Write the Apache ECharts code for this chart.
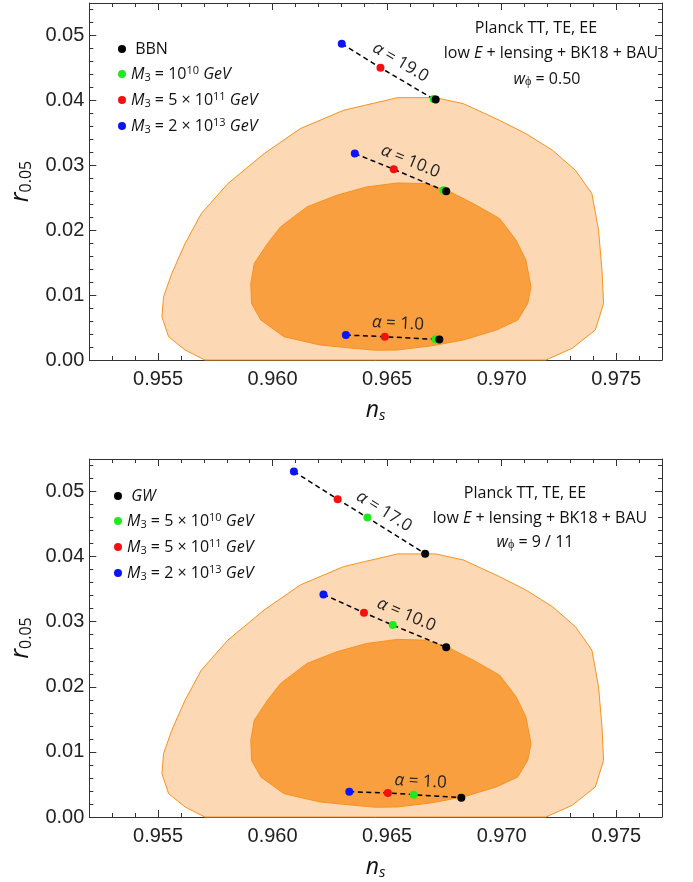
<!DOCTYPE html>
<html>
<head>
<meta charset="utf-8">
<script src="https://cdn.jsdelivr.net/npm/echarts@6/dist/echarts.min.js"></script>
<style>
html, body { margin: 0; padding: 0; background: #fff; }
#chart { width: 693px; height: 882px; }
</style>
</head>
<body>
<div id="chart"></div>
<script>
// Planck TT,TE,EE + lowE + lensing + BK18 + BAU contours, [n_s, r_0.05] (same in both panels)
const outerContour = [
    [0.95704, 0], [0.95618, 0.00154], [0.95546, 0.00358], [0.95517, 0.00666], [0.95524, 0.00974],
    [0.95560, 0.01334], [0.95618, 0.01795], [0.95689, 0.02257], [0.95805, 0.02718], [0.95963, 0.03180],
    [0.96121, 0.03565], [0.96309, 0.03846], [0.96401, 0.03923], [0.96496, 0.04000], [0.96545, 0.04042],
    [0.96711, 0.04042], [0.96833, 0.03949], [0.96991, 0.03692], [0.97106, 0.03487], [0.97222, 0.03231],
    [0.97322, 0.02923], [0.97394, 0.02564], [0.97423, 0.02000], [0.97438, 0.01385], [0.97445, 0.00872],
    [0.97409, 0.00462], [0.97308, 0.00180], [0.97193, 0]
];
const innerContour = [
    [0.96050, 0.00358], [0.95949, 0.00615], [0.95908, 0.00872], [0.95905, 0.01180], [0.95920, 0.01487],
    [0.95978, 0.01795], [0.96035, 0.02051], [0.96150, 0.02359], [0.96280, 0.02538], [0.96410, 0.02666],
    [0.96545, 0.02728], [0.96660, 0.02718], [0.96761, 0.02615], [0.96876, 0.02410], [0.96991, 0.02180],
    [0.97063, 0.01846], [0.97106, 0.01538], [0.97128, 0.01128], [0.97114, 0.00872], [0.97070, 0.00615],
    [0.96977, 0.00462], [0.96833, 0.00308], [0.96689, 0.00215], [0.96545, 0.00154], [0.96450, 0.00150],
    [0.96352, 0.00180], [0.96208, 0.00231]
];

// axis ticks
const nsTicks = [0.955, 0.960, 0.965, 0.970, 0.975];
const rTicks = [0, 0.01, 0.02, 0.03, 0.04, 0.05];

// top panel (w_phi = 0.50), one entry per alpha line
const alphaTop = ['19.0', '10.0', '1.0'];
const topBlue  = [[0.96302, 0.04872], [0.96359, 0.03180], [0.96320, 0.00385]];
const topRed   = [[0.96471, 0.04503], [0.96529, 0.02938], [0.96490, 0.00359]];
const topGreen = [[0.96703, 0.04020], [0.96746, 0.02615], [0.96711, 0.00318]];
const topBlack = [[0.96712, 0.04015], [0.96758, 0.02600], [0.96728, 0.00315]];

// bottom panel (w_phi = 9/11)
const alphaBottom = ['17.0', '10.0', '1.0'];
const botBlue  = [[0.96093, 0.05308], [0.96222, 0.03420], [0.96335, 0.00389]];
const botRed   = [[0.96284, 0.04882], [0.96399, 0.03138], [0.96503, 0.00369]];
const botGreen = [[0.96414, 0.04600], [0.96525, 0.02948], [0.96616, 0.00343]];
const botBlack = [[0.96666, 0.04046], [0.96758, 0.02609], [0.96824, 0.00297]];

const FONT = 'Open Sans';
const FRAME = '#333';
const legendRich = {
    t: {fontSize: 16, fontFamily: FONT, color: '#111', lineHeight: 18},
    i: {fontSize: 16, fontFamily: FONT, fontStyle: 'italic', color: '#111', lineHeight: 18},
    sub: {fontSize: 11, fontFamily: FONT, color: '#111', lineHeight: 10, verticalAlign: 'bottom'},
    sup: {fontSize: 11, fontFamily: FONT, color: '#111', lineHeight: 8, verticalAlign: 'top'}
};
const legendText = {
    t_black: '{t| BBN}',
    t_green: '{i|M}{sub|3}{t| = 10}{sup|10}{i| GeV}',
    t_red: '{i|M}{sub|3}{t| = 5 × 10}{sup|11}{i| GeV}',
    t_blue: '{i|M}{sub|3}{t| = 2 × 10}{sup|13}{i| GeV}',
    b_black: '{i| GW}',
    b_green: '{i|M}{sub|3}{t| = 5 × 10}{sup|10}{i| GeV}',
    b_red: '{i|M}{sub|3}{t| = 5 × 10}{sup|11}{i| GeV}',
    b_blue: '{i|M}{sub|3}{t| = 2 × 10}{sup|13}{i| GeV}'
};

const gridDefs = [{left: 85, top: 3, width: 577, height: 357}, {left: 85, top: 459, width: 577, height: 358}];

function xAxesFor(gi) {
    const base = {gridIndex: gi, type: 'value', min: 0.952, max: 0.977, splitLine: {show: false}};
    const major = {show: true, inside: true, length: 7, customValues: nsTicks, lineStyle: {color: FRAME}};
    const minor = {show: true, inside: true, length: 4, lineStyle: {color: FRAME}};
    return [
        Object.assign({}, base, {
            position: 'bottom',
            name: '{n|n}{s|s}', nameLocation: 'middle', nameGap: 37,
            nameTextStyle: {rich: {
                n: {fontSize: 23, fontFamily: FONT, fontStyle: 'italic', color: '#111', lineHeight: 26},
                s: {fontSize: 15, fontFamily: FONT, fontStyle: 'italic', color: '#111', lineHeight: 12, verticalAlign: 'bottom'}
            }},
            axisLine: {show: true, onZero: false, lineStyle: {color: FRAME, width: 1}},
            axisTick: major,
            axisLabel: {show: true, customValues: nsTicks, formatter: v => v.toFixed(3), margin: 9,
                fontSize: 20, fontFamily: 'Liberation Sans', color: '#222'}
        }),
        Object.assign({}, base, {position: 'bottom', interval: 0.001, axisLine: {show: false, onZero: false},
            axisTick: minor, axisLabel: {show: false}}),
        Object.assign({}, base, {position: 'top', axisLine: {show: true, onZero: false, lineStyle: {color: FRAME, width: 1}},
            axisTick: major, axisLabel: {show: false}}),
        Object.assign({}, base, {position: 'top', interval: 0.001, axisLine: {show: false, onZero: false},
            axisTick: minor, axisLabel: {show: false}})
    ];
}

function yAxesFor(gi) {
    const base = {gridIndex: gi, type: 'value', min: 0, max: 0.055, splitLine: {show: false}};
    const major = {show: true, inside: true, length: 7, customValues: rTicks, lineStyle: {color: FRAME}};
    const minor = {show: true, inside: true, length: 4, lineStyle: {color: FRAME}};
    return [
        Object.assign({}, base, {
            position: 'left',
            name: '{r|r}{s|0.05}', nameLocation: 'middle', nameGap: 50,
            nameTextStyle: {rich: {
                r: {fontSize: 25, fontFamily: FONT, fontStyle: 'italic', color: '#111', lineHeight: 28},
                s: {fontSize: 16, fontFamily: FONT, color: '#111', lineHeight: 14, verticalAlign: 'bottom'}
            }},
            axisLine: {show: true, onZero: false, lineStyle: {color: FRAME, width: 1}},
            axisTick: major,
            axisLabel: {show: true, customValues: rTicks, formatter: v => v.toFixed(2), margin: 5,
                fontSize: 20, fontFamily: 'Liberation Sans', color: '#222'}
        }),
        Object.assign({}, base, {position: 'left', interval: 0.002, axisLine: {show: false, onZero: false},
            axisTick: minor, axisLabel: {show: false}}),
        Object.assign({}, base, {position: 'right', axisLine: {show: true, onZero: false, lineStyle: {color: FRAME, width: 1}},
            axisTick: major, axisLabel: {show: false}}),
        Object.assign({}, base, {position: 'right', interval: 0.002, axisLine: {show: false, onZero: false},
            axisTick: minor, axisLabel: {show: false}})
    ];
}

function contourSeries(gi, points, fill) {
    return {
        type: 'custom', xAxisIndex: gi * 4, yAxisIndex: gi * 4, silent: true, z: 1,
        data: points,
        renderItem: function (params, api) {
            if (params.dataIndex !== 0) return;
            return {
                type: 'polygon',
                shape: {points: points.map(p => api.coord(p))},
                style: {fill: fill, stroke: '#F7931E', lineWidth: 1}
            };
        }
    };
}

function dashedLines(gi, blue, red, green, black) {
    return blue.map((b, i) => ({
        type: 'line', xAxisIndex: gi * 4, yAxisIndex: gi * 4, silent: true, z: 3,
        data: [b, red[i], green[i], black[i]],
        symbol: 'none',
        lineStyle: {color: '#000', width: 1.5, type: [5, 3.5]}
    }));
}

function dots(gi, name, values, color) {
    return {
        type: 'scatter', name: name, xAxisIndex: gi * 4, yAxisIndex: gi * 4, z: 4,
        data: values, symbolSize: 8, itemStyle: {color: color, opacity: 1}
    };
}

function alphaLabels(gi, blue, black, labels, t) {
    return {
        type: 'custom', xAxisIndex: gi * 4, yAxisIndex: gi * 4, silent: true, z: 5,
        data: blue.map((b, i) => [b[0], b[1], black[i][0], black[i][1]]),
        renderItem: function (params, api) {
            const p0 = api.coord([api.value(0), api.value(1)]);
            const p1 = api.coord([api.value(2), api.value(3)]);
            const dx = p1[0] - p0[0], dy = p1[1] - p0[1];
            const len = Math.sqrt(dx * dx + dy * dy);
            const off = 14;
            return {
                type: 'text',
                x: p0[0] + dx * t + dy / len * off,
                y: p0[1] + dy * t - dx / len * off,
                rotation: -Math.atan2(dy, dx),
                style: {
                    text: '{a|α} = ' + labels[params.dataIndex],
                    fill: '#222', fontSize: 17, fontFamily: FONT,
                    align: 'center', verticalAlign: 'middle',
                    rich: {a: {fontSize: 17, fontFamily: FONT, fontStyle: 'italic', fill: '#222'}}
                }
            };
        }
    };
}

function noteText(x, y, text) {
    return {
        type: 'text', x: x, y: y, silent: true,
        style: {
            text: text, fill: '#111', fontSize: 16, fontFamily: FONT,
            align: 'center', verticalAlign: 'middle',
            rich: {
                t: {fontSize: 16, fontFamily: FONT, fill: '#111', lineHeight: 18},
                i: {fontSize: 16, fontFamily: FONT, fontStyle: 'italic', fill: '#111', lineHeight: 18},
                sub: {fontSize: 12, fontFamily: FONT, fill: '#111', lineHeight: 10, verticalAlign: 'bottom'}
            }
        }
    };
}

function legendFor(names, left, top) {
    return {
        data: names, orient: 'vertical', left: left, top: top,
        icon: 'circle', itemWidth: 8, itemHeight: 8, itemGap: 8, selectedMode: false,
        formatter: n => legendText[n],
        textStyle: {rich: legendRich}
    };
}

const option = {
    animation: false,
    backgroundColor: '#fff',
    grid: gridDefs,
    xAxis: xAxesFor(0).concat(xAxesFor(1)),
    yAxis: yAxesFor(0).concat(yAxesFor(1)),
    legend: [
        legendFor(['t_black', 't_green', 't_red', 't_blue'], 113, 36),
        legendFor(['b_black', 'b_green', 'b_red', 'b_blue'], 109, 483)
    ],
    graphic: [
        noteText(536, 28, '{t|Planck TT, TE, EE}'),
        noteText(551, 53, '{t|low }{i|E}{t| + lensing + BK18 + BAU}'),
        noteText(547, 79, '{i|w}{sub|ϕ}{t| = 0.50}'),
        noteText(525, 493, '{t|Planck TT, TE, EE}'),
        noteText(540, 518, '{t|low }{i|E}{t| + lensing + BK18 + BAU}'),
        noteText(535, 542, '{i|w}{sub|ϕ}{t| = 9 / 11}')
    ],
    series: [
        contourSeries(0, outerContour, '#FDD8B4'),
        contourSeries(0, innerContour, '#FA9F40'),
        contourSeries(1, outerContour, '#FDD8B4'),
        contourSeries(1, innerContour, '#FA9F40')
    ].concat(
        dashedLines(0, topBlue, topRed, topGreen, topBlack),
        dashedLines(1, botBlue, botRed, botGreen, botBlack),
        [
            dots(0, 't_blue', topBlue, '#0A14F5'),
            dots(0, 't_red', topRed, '#F51010'),
            dots(0, 't_green', topGreen, '#22E81E'),
            dots(0, 't_black', topBlack, '#000000'),
            dots(1, 'b_blue', botBlue, '#0A14F5'),
            dots(1, 'b_red', botRed, '#F51010'),
            dots(1, 'b_green', botGreen, '#22E81E'),
            dots(1, 'b_black', botBlack, '#000000'),
            alphaLabels(0, topBlue, topBlack, alphaTop, 0.55),
            alphaLabels(1, botBlue, botBlack, alphaBottom, 0.63)
        ]
    )
};

const chart = echarts.init(document.getElementById('chart'));
chart.setOption(option);
</script>
</body>
</html>
